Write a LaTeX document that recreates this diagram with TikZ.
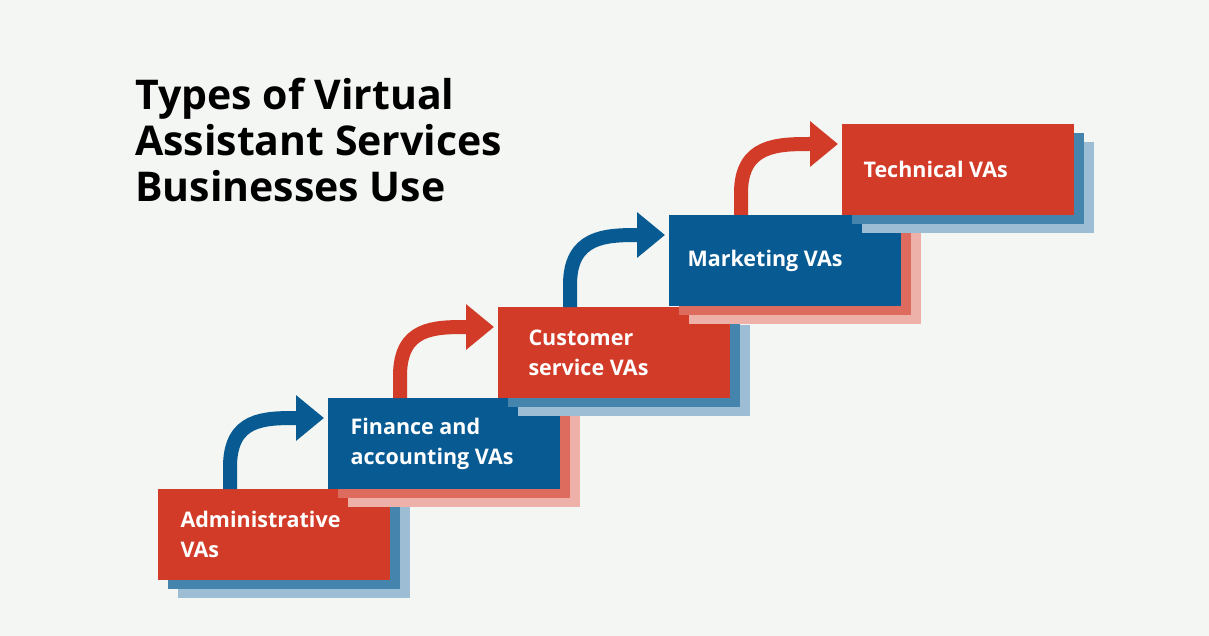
\documentclass[tikz,border=0pt]{standalone}
\usepackage{fontspec}
\setmainfont{Open Sans}
\usetikzlibrary{arrows.meta}
\definecolor{vred}{HTML}{D23B28}
\definecolor{vblue}{HTML}{075B92}
\definecolor{bg}{HTML}{F3F6F2}
\begin{document}
\begin{tikzpicture}[x=1pt,y=-1pt,
  box/.style={minimum width=232pt,minimum height=91pt,anchor=north west,inner sep=0pt},
  lab/.style={anchor=west,text=white,font=\bfseries\fontsize{21.5}{30}\selectfont,align=left},
  arr/.style={line width=14pt,-{Triangle[length=28pt,width=44pt]}}]
\fill[bg] (0,0) rectangle (1209,636);
\useasboundingbox (0,0) rectangle (1209,636);
\node[anchor=north west,align=left,font=\bfseries\fontsize{41}{46}\selectfont,inner sep=0pt] (title) at (135,78) {Types of Virtual\\Assistant Services\\Businesses Use};
\foreach \n/\x/\y/\c/\s in {1/158/489/vred/vblue,2/328/398/vblue/vred,3/498/307/vred/vblue,4/669/215/vblue/vred,5/842/124/vred/vblue}{
  \fill[\s!40] (\x+20,\y+18) rectangle (\x+252,\y+109);
  \fill[\s!75] (\x+10,\y+9) rectangle (\x+242,\y+100);
  \node[box,fill=\c] (b\n) at (\x,\y) {};
}
\node[lab] (t1) at ([xshift=19pt]b1.west) {Administrative\\VAs};
\node[lab] (t2) at ([xshift=19pt]b2.west) {Finance and\\accounting VAs};
\node[lab] (t3) at ([xshift=27pt]b3.west) {Customer\\service VAs};
\node[lab] (t4) at ([xshift=15pt]b4.west) {Marketing VAs};
\node[lab] (t5) at ([xshift=18pt]b5.west) {Technical VAs};
\foreach \a/\b/\c in {1/2/vblue,2/3/vred,3/4/vblue,4/5/vred}{
  \coordinate (s\a) at ([xshift=72pt]b\a.north west);
  \coordinate (e\a) at ([xshift=-4pt,yshift=-20pt]b\b.north west);
  \draw[arr,\c] (s\a) -- ++(0,-22) .. controls ++(0,-49) and ([xshift=-60pt]e\a) .. (e\a);
}
\end{tikzpicture}
\end{document}
